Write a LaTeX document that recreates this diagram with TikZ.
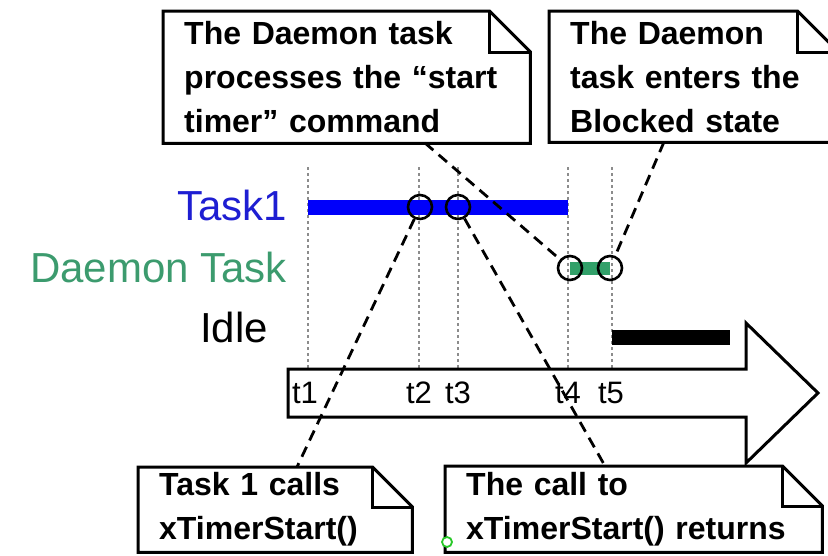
\documentclass[tikz,border=0pt]{standalone}
\usepackage{fontspec}
\setmainfont{Liberation Sans}
\definecolor{taskblue}{RGB}{30,30,210}
\definecolor{barblue}{RGB}{0,0,250}
\definecolor{dgreen}{RGB}{60,155,110}
\definecolor{dbar}{RGB}{50,160,105}
\definecolor{tickgray}{RGB}{140,140,140}
\definecolor{markgreen}{RGB}{40,200,40}
\newcommand\mynote[2]{%
  \draw[noteline] (#1.north west) -- ([xshift=-#2pt]#1.north east) -- ([yshift=-#2pt]#1.north east) -- (#1.south east) -- (#1.south west) -- cycle;
  \draw[noteline] ([xshift=-#2pt]#1.north east) -- ([xshift=-#2pt,yshift=-#2pt]#1.north east) -- ([yshift=-#2pt]#1.north east);}
\tikzset{
  notebox/.style={draw=none, anchor=north west, inner xsep=21pt, inner ysep=0pt, align=left,
    font=\bfseries\fontsize{32}{44}\selectfont},
  noteline/.style={draw=black, line width=3pt, line join=miter},
  rowlabel/.style={anchor=base east, inner sep=0pt, font=\fontsize{42}{50}\selectfont},
  tlabel/.style={inner sep=0pt, font=\fontsize{31}{36}\selectfont},
  tick/.style={draw=tickgray, line width=2.2pt, dash pattern=on 3pt off 3pt},
  callout/.style={draw=black, line width=2.8pt, dash pattern=on 11pt off 7pt},
  evt/.style={circle, draw=black, line width=2.6pt, minimum size=24pt, inner sep=0pt},
  timearrow/.style={draw=black, line width=3pt, fill=white, line join=miter}
}
\begin{document}
\begin{tikzpicture}[x=1pt,y=-1pt]
\useasboundingbox (0,0) rectangle (828,555);

% row labels
\node[rowlabel, text=taskblue] (lt) at (287,220) {Task1};
\node[rowlabel, text=dgreen] (ld) at (287,282) {Daemon Task};
\node[rowlabel, text=black] (li) at (268,342) {Idle};

% time ticks
\foreach \n/\x in {1/308,2/419,3/458,4/568,5/612}{
  \coordinate (tt\n) at (\x,167);
  \coordinate (tb\n) at (\x,369);
  \draw[tick] (tt\n) -- (tb\n);
}

% time arrow
\draw[timearrow] (288,369) -- (746,369) -- (746,323) -- (818,393) -- (746,463) -- (746,417) -- (288,417) -- cycle;

% time labels
\node[tlabel] (l1) at (305,393) {t1};
\node[tlabel] (l2) at (419,393) {t2};
\node[tlabel] (l3) at (458,393) {t3};
\node[tlabel] (l4) at (568,393) {t4};
\node[tlabel] (l5) at (611,393) {t5};

% bars
\coordinate (b1s) at (308,207); \coordinate (b1e) at (568,207);
\draw[barblue, line width=15pt] (b1s) -- (b1e);
\coordinate (b2s) at (570,268); \coordinate (b2e) at (610,268);
\draw[dbar, line width=13pt] (b2s) -- (b2e);
\coordinate (b3s) at (612,337); \coordinate (b3e) at (730,337);
\draw[black, line width=15pt] (b3s) -- (b3e);

% event circles
\node[evt] (c2) at (420,207) {};
\node[evt] (c3) at (458,207) {};
\node[evt] (c4) at (570,268) {};
\node[evt] (c5) at (610,268) {};

% notes
\node[notebox, minimum width=367pt, minimum height=132pt, text width=325pt] (n1) at (163,11)
  {The Daemon task\\processes the “start\\timer” command};
\mynote{n1}{41}
\node[notebox, minimum width=289pt, minimum height=131pt, text width=247pt] (n2) at (549,11)
  {The Daemon\\task enters the\\Blocked state};
\mynote{n2}{41}
\node[notebox, minimum width=274pt, minimum height=85pt, text width=232pt] (n3) at (138,467)
  {Task 1 calls\\xTimerStart()};
\mynote{n3}{40}
\node[notebox, minimum width=377pt, minimum height=86pt, text width=335pt] (n4) at (445,466)
  {The call to\\xTimerStart() returns};
\mynote{n4}{40}

% callout connectors
\coordinate (a1) at (425,143);
\coordinate (a2) at (664,142);
\coordinate (a3) at (297,467);
\coordinate (a4) at (605,466);
\draw[callout] (a1) -- (c4);
\draw[callout] (a2) -- (c5);
\draw[callout] (c2) -- (a3);
\draw[callout] (c3) -- (a4);

% small green marker
\node[circle, draw=markgreen, fill=white, line width=1.8pt, minimum size=10pt, inner sep=0pt] (gm) at (447,542) {};
\end{tikzpicture}
\end{document}
